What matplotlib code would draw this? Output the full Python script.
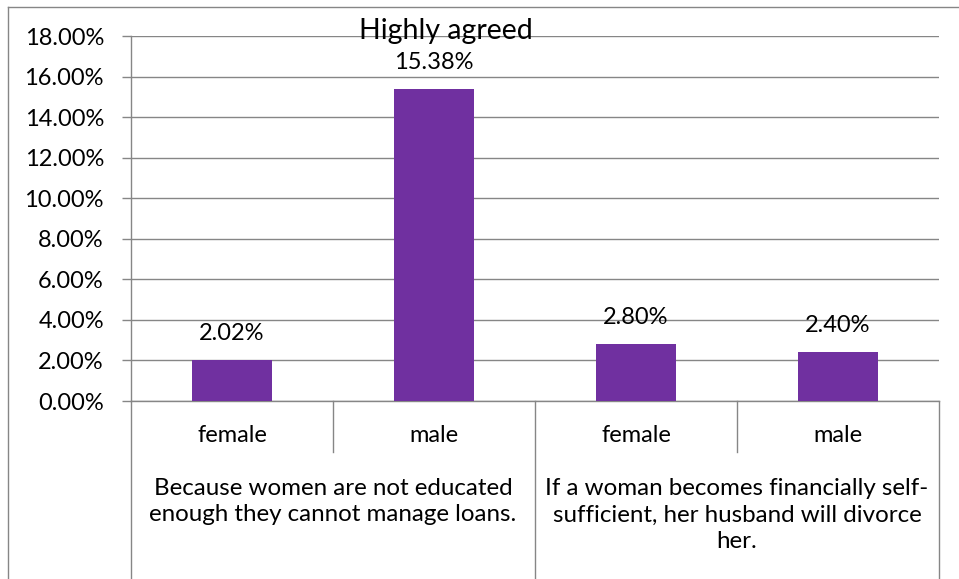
import matplotlib
matplotlib.use("Agg")
import matplotlib.pyplot as plt
from matplotlib.ticker import FuncFormatter, MultipleLocator
from matplotlib.transforms import blended_transform_factory
from matplotlib.lines import Line2D

plt.rcParams['font.family'] = ['Lato', 'DejaVu Sans']

# Data
subgroups = ["female", "male", "female", "male"]
groups = [
    "Because women are not educated\nenough they cannot manage loans.",
    "If a woman becomes financially self-\nsufficient, her husband will divorce\nher.",
]
values = [2.02, 15.38, 2.80, 2.40]   # percent
title = "Highly agreed"

bar_color = "#7030A0"
line_gray = "#868686"
FS = 17

W, H = 959, 579
fig = plt.figure(figsize=(W / 100, H / 100), dpi=100)
ax = fig.add_axes([131 / W, 1 - 401 / H, (939 - 131) / W, (401 - 36) / H])

x = list(range(len(values)))
frac = [v / 100 for v in values]
ax.bar(x, frac, width=0.4, color=bar_color, zorder=3)

ax.set_xlim(-0.5, len(values) - 0.5)
ax.set_ylim(0, 0.18)
ax.yaxis.set_major_locator(MultipleLocator(0.02))
ax.yaxis.set_major_formatter(FuncFormatter(lambda v, p: f"{v * 100:.2f}%"))
ax.grid(axis="y", color=line_gray, linewidth=1.0, zorder=0)
ax.set_axisbelow(True)
ax.tick_params(axis="y", length=6.5, width=1, color=line_gray, labelsize=FS, pad=13)
ax.tick_params(axis="x", length=0, labelbottom=False)
for s in ("top", "right"):
    ax.spines[s].set_visible(False)
for s in ("left", "bottom"):
    ax.spines[s].set_color(line_gray)
    ax.spines[s].set_linewidth(1.0)

# value labels above bars
for xi, v, f in zip(x, values, frac):
    ax.annotate(f"{v:.2f}%", (xi, f), xytext=(0, 19), textcoords="offset points",
                ha="center", va="center", fontsize=FS)

# multi-level category axis
tr = blended_transform_factory(ax.transData, fig.transFigure)
y_axis0 = 1 - 401 / H
y_inner = 1 - 452 / H
for sx in (0.5, 2.5):
    fig.add_artist(Line2D([sx, sx], [y_axis0, y_inner], transform=tr,
                          color=line_gray, linewidth=1.0))
for sx in (-0.5, 1.5, 3.5):
    fig.add_artist(Line2D([sx, sx], [y_axis0, 0], transform=tr,
                          color=line_gray, linewidth=1.0))

for xi, lab in zip(x, subgroups):
    fig.text(xi, 1 - 435 / H, lab, transform=tr, ha="center", va="center",
             fontsize=FS)

for gi, lab in enumerate(groups):
    cx = gi * 2 + 0.5
    fig.text(cx, 1 - 478 / H, lab, transform=tr, ha="center", va="top",
             fontsize=17.4, linespacing=1.32)

fig.text(446 / W, 1 - 31 / H, title, ha="center", va="center", fontsize=20.5)

# chart frame
fig.add_artist(Line2D([8 / W, 8 / W], [1 - 7 / H, 0], transform=fig.transFigure,
                      color=line_gray, linewidth=1.0))
fig.add_artist(Line2D([8 / W, 1], [1 - 7 / H, 1 - 7 / H], transform=fig.transFigure,
                      color=line_gray, linewidth=1.0))

fig.savefig("out.png", dpi=100)
